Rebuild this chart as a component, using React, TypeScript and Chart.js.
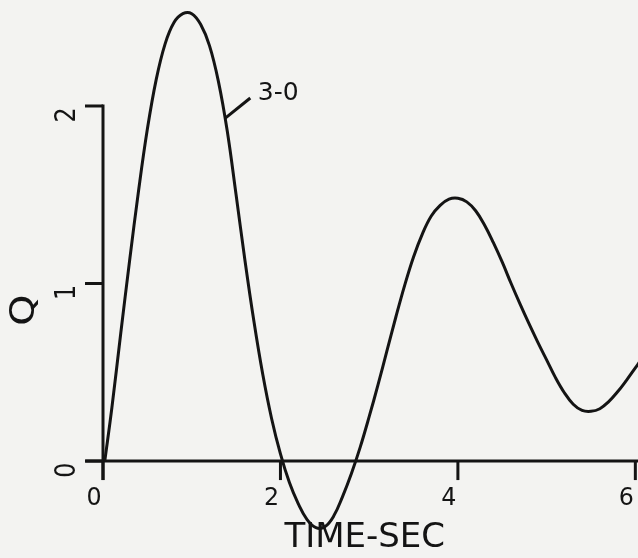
import React, { useEffect, useRef } from "react";
import { Chart, registerables } from "chart.js";

Chart.register(...registerables);

// Data
const TIME = [0.02, 0.1, 0.2, 0.3, 0.4, 0.5, 0.6, 0.7, 0.8, 0.9, 1.0, 1.1, 1.2, 1.3, 1.4, 1.5, 1.6, 1.7, 1.8, 1.9, 2.0, 2.1, 2.2, 2.3, 2.4, 2.5, 2.6, 2.7, 2.8, 2.9, 3.0, 3.1, 3.2, 3.3, 3.4, 3.5, 3.6, 3.7, 3.8, 3.9, 4.0, 4.1, 4.2, 4.3, 4.4, 4.5, 4.6, 4.7, 4.8, 4.9, 5.0, 5.1, 5.2, 5.3, 5.4, 5.5, 5.6, 5.7, 5.8, 5.9, 6.0, 6.05];
const Q = [0.0, 0.3, 0.72, 1.13, 1.52, 1.87, 2.15, 2.35, 2.47, 2.52, 2.52, 2.46, 2.34, 2.14, 1.86, 1.5, 1.13, 0.79, 0.49, 0.24, 0.04, -0.12, -0.24, -0.33, -0.375, -0.37, -0.31, -0.2, -0.07, 0.08, 0.25, 0.43, 0.62, 0.81, 0.99, 1.15, 1.28, 1.38, 1.44, 1.475, 1.48, 1.46, 1.41, 1.33, 1.23, 1.12, 1.0, 0.885, 0.775, 0.67, 0.57, 0.47, 0.385, 0.32, 0.285, 0.28, 0.295, 0.335, 0.39, 0.455, 0.525, 0.56];
const X_TICKS = [0, 2, 4, 6];
const Y_TICKS = [0, 1, 2];
const X_TITLE = "TIME-SEC";
const Y_TITLE = "Q";
const CURVE_LABEL = "3-0";
const CURVE_LABEL_AT = 1.375; // time where the leader touches the curve

const INK = "#141414";
const PAPER = "#f3f3f1";
const FONT = '"DejaVu Sans", "Liberation Sans", sans-serif';

function drawText(
  ctx: CanvasRenderingContext2D,
  text: string,
  x: number,
  y: number,
  size: number,
  rot = 0,
  sx = 1,
  align: CanvasTextAlign = "center"
) {
  ctx.save();
  ctx.translate(x, y);
  ctx.rotate(rot);
  ctx.scale(sx, 1);
  ctx.font = `${size}px ${FONT}`;
  ctx.fillStyle = INK;
  ctx.textAlign = align;
  ctx.textBaseline = "middle";
  ctx.fillText(text, 0, 0);
  ctx.restore();
}

const plotterPlugin = {
  id: "plotter",
  beforeDraw(chart: any) {
    const { ctx, width, height } = chart;
    ctx.save();
    ctx.fillStyle = PAPER;
    ctx.fillRect(0, 0, width, height);
    ctx.restore();
  },
  beforeDatasetsDraw(chart: any) {
    const ctx: CanvasRenderingContext2D = chart.ctx;
    const xs = chart.scales.x;
    const ys = chart.scales.y;
    const px = (v: number) => xs.getPixelForValue(v);
    const py = (v: number) => ys.getPixelForValue(v);
    const y0 = py(0);
    const x0 = px(0);
    ctx.save();
    ctx.strokeStyle = INK;
    ctx.lineWidth = 3;
    ctx.lineCap = "butt";
    ctx.beginPath();
    ctx.moveTo(px(-0.2), y0);
    ctx.lineTo(xs.right, y0);
    ctx.stroke();
    X_TICKS.forEach((v) => {
      ctx.beginPath();
      ctx.moveTo(px(v), y0);
      ctx.lineTo(px(v), y0 + 19);
      ctx.stroke();
    });
    ctx.beginPath();
    ctx.moveTo(x0, py(Y_TICKS[Y_TICKS.length - 1]) - 1.5);
    ctx.lineTo(x0, y0 + 19);
    ctx.stroke();
    Y_TICKS.forEach((v) => {
      ctx.beginPath();
      ctx.moveTo(x0 - 18, py(v));
      ctx.lineTo(x0, py(v));
      ctx.stroke();
    });
    ctx.restore();
  },
  afterDatasetsDraw(chart: any) {
    const ctx: CanvasRenderingContext2D = chart.ctx;
    const xs = chart.scales.x;
    const ys = chart.scales.y;
    const px = (v: number) => xs.getPixelForValue(v);
    const py = (v: number) => ys.getPixelForValue(v);
    const y0 = py(0);
    const x0 = px(0);
    X_TICKS.forEach((v) => drawText(ctx, String(v), px(v) - 9, y0 + 37, 25, 0, 0.95));
    Y_TICKS.forEach((v) => drawText(ctx, String(v), x0 - 35, py(v) + 9, 28, -Math.PI / 2, 0.85));
    drawText(ctx, Y_TITLE, 25, py(0.85), 33, -Math.PI / 2, 1.2);
    drawText(ctx, X_TITLE, px(2.95), y0 + 77, 34, 0, 1);
    let qi = 0;
    for (let i = 0; i < TIME.length - 1; i++) {
      if (TIME[i] <= CURVE_LABEL_AT && TIME[i + 1] >= CURVE_LABEL_AT) {
        const f = (CURVE_LABEL_AT - TIME[i]) / (TIME[i + 1] - TIME[i]);
        qi = Q[i] + f * (Q[i + 1] - Q[i]);
      }
    }
    ctx.save();
    ctx.strokeStyle = INK;
    ctx.lineWidth = 3;
    ctx.beginPath();
    ctx.moveTo(px(CURVE_LABEL_AT), py(qi));
    ctx.lineTo(px(1.66), py(2.045));
    ctx.stroke();
    ctx.restore();
    drawText(ctx, CURVE_LABEL, px(1.745), py(2.07), 25, 0, 1, "left");
  },
};

export default function App() {
  const ref = useRef<HTMLCanvasElement | null>(null);
  useEffect(() => {
    document.body.style.margin = "0";
    const canvas = ref.current!;
    const chart = new Chart(canvas, {
      type: "line",
      data: {
        datasets: [
          {
            label: CURVE_LABEL,
            data: TIME.map((t, i) => ({ x: t, y: Q[i] })),
            borderColor: INK,
            borderWidth: 3,
            pointRadius: 0,
            tension: 0.4,
            fill: false,
          },
        ],
      },
      options: {
        animation: false,
        responsive: false,
        devicePixelRatio: 1,
        layout: { padding: 0 },
        plugins: { legend: { display: false }, tooltip: { enabled: false } },
        events: [],
        scales: {
          x: { type: "linear", min: -1.161, max: 6.03, display: false },
          y: { type: "linear", min: -0.546, max: 2.597, display: false },
        },
      },
      plugins: [plotterPlugin],
    } as any);
    return () => chart.destroy();
  }, []);
  return (
    <div style={{ width: 638, height: 558 }}>
      <canvas ref={ref} width={638} height={558} />
    </div>
  );
}
